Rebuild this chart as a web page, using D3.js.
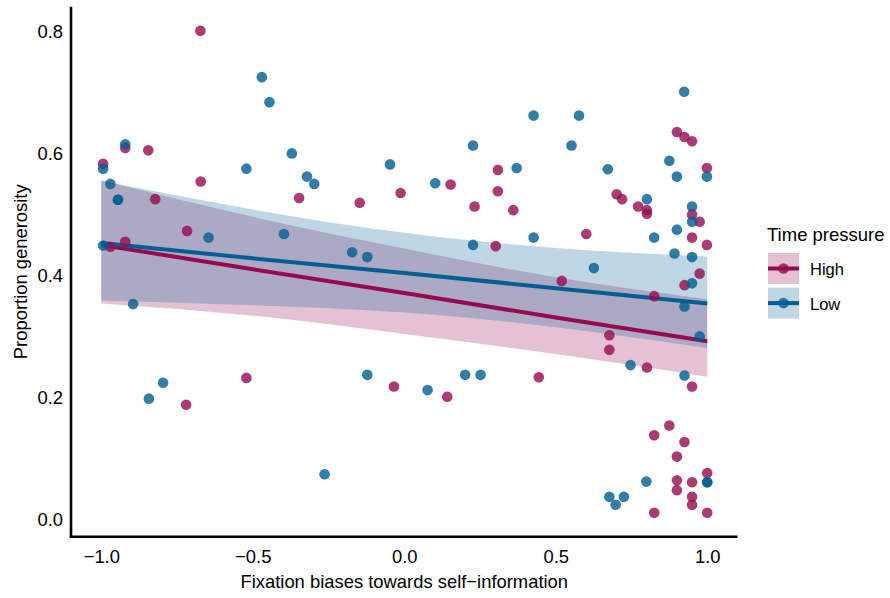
<!DOCTYPE html>
<html>
<head>
<meta charset="utf-8">
<script src="https://cdn.jsdelivr.net/npm/d3@7"></script>
<style>
  body { margin: 0; background: #fff; }
  text { font-family: "Liberation Sans", Arial, Helvetica, sans-serif; fill: #000; }
</style>
</head>
<body>
<div id="chart"></div>
<script>
// points: [fixation bias, proportion generosity]
var highPoints = [
  [-0.673, 0.802], [-0.921, 0.610], [-0.845, 0.606], [-0.994, 0.584], [-0.672, 0.555],
  [-0.822, 0.526], [-0.347, 0.528], [-0.717, 0.474], [-0.970, 0.448], [-0.921, 0.456],
  [-0.720, 0.189], [-0.521, 0.233], [0.309, 0.574], [0.153, 0.550], [0.309, 0.539],
  [-0.147, 0.520], [-0.012, 0.536], [0.232, 0.514], [0.360, 0.508], [0.302, 0.449],
  [0.601, 0.469], [0.520, 0.392], [-0.034, 0.219], [0.142, 0.202], [0.444, 0.234],
  [0.900, 0.636], [0.925, 0.628], [0.950, 0.621], [0.999, 0.577], [0.701, 0.534],
  [0.719, 0.526], [0.772, 0.514], [0.801, 0.508], [0.801, 0.502], [0.950, 0.501],
  [0.975, 0.489], [0.950, 0.463], [0.999, 0.451], [0.975, 0.404], [0.925, 0.385],
  [0.825, 0.367], [0.677, 0.303], [0.677, 0.279], [0.801, 0.250], [0.950, 0.219],
  [0.875, 0.155], [0.825, 0.139], [0.925, 0.128], [0.900, 0.104], [1.000, 0.077],
  [0.900, 0.065], [0.950, 0.062], [0.900, 0.049], [0.950, 0.038], [0.950, 0.025],
  [0.825, 0.012], [1.000, 0.012]
];
var lowPoints = [
  [-0.470, 0.726], [-0.445, 0.685], [-0.921, 0.616], [-0.994, 0.576], [-0.521, 0.576],
  [-0.371, 0.601], [-0.970, 0.551], [-0.945, 0.525], [-0.945, 0.525], [-0.646, 0.463],
  [-0.397, 0.469], [-0.994, 0.450], [-0.895, 0.354], [-0.796, 0.225], [-0.843, 0.199],
  [0.427, 0.663], [0.577, 0.663], [0.227, 0.614], [0.552, 0.614], [-0.047, 0.583],
  [0.371, 0.577], [-0.321, 0.563], [-0.297, 0.551], [0.102, 0.552], [0.427, 0.463],
  [0.227, 0.451], [-0.172, 0.439], [-0.122, 0.431], [0.626, 0.413], [-0.122, 0.238],
  [0.077, 0.213], [0.201, 0.238], [0.252, 0.238], [-0.263, 0.075], [0.924, 0.702],
  [0.875, 0.589], [0.672, 0.575], [0.900, 0.563], [0.999, 0.563], [0.801, 0.526],
  [0.950, 0.514], [0.950, 0.489], [0.900, 0.476], [0.825, 0.463], [0.892, 0.437],
  [0.950, 0.431], [0.950, 0.388], [0.925, 0.350], [0.975, 0.301], [0.747, 0.254],
  [0.925, 0.237], [1.000, 0.062], [1.000, 0.062], [0.799, 0.063], [0.677, 0.038],
  [0.725, 0.038], [0.698, 0.025]
];

// fitted lines and confidence bands, read at these x positions
var fitX = [-1, -0.5, 0, 0.5, 1];
var highFit = [0.451, 0.411, 0.372, 0.332, 0.293];
var highLower = [0.355, 0.335, 0.305, 0.272, 0.235];
var highUpper = [0.557, 0.497, 0.445, 0.398, 0.362];
var lowFit = [0.454, 0.429, 0.405, 0.380, 0.355];
var lowLower = [0.360, 0.352, 0.340, 0.316, 0.282];
var lowUpper = [0.556, 0.509, 0.471, 0.446, 0.432];

var xTicks = [-1.0, -0.5, 0.0, 0.5, 1.0];
var yTicks = [0.0, 0.2, 0.4, 0.6, 0.8];
var groups = ["High", "Low"];

var colors = { High: "#970A50", Low: "#005E94" };

var svgWidth = 890;
var svgHeight = 598;
var panel = { left: 71, right: 737.5, top: 6.7, bottom: 536.8 };

var svg = d3.select("#chart")
  .append("svg")
  .attr("width", svgWidth)
  .attr("height", svgHeight);

var xScale = d3.scaleLinear()
  .domain([-1.1, 1.1])
  .range([panel.left, panel.right]);

var yScale = d3.scaleLinear()
  .domain([-0.0275, 0.8415])
  .range([panel.bottom, panel.top]);

function band(lo, hi) {
  return fitX.map(function(x, i) { return { x: x, lo: lo[i], hi: hi[i] }; });
}
function fitLine(vals) {
  return fitX.map(function(x, i) { return { x: x, y: vals[i] }; });
}

var area = d3.area()
  .curve(d3.curveNatural)
  .x(d => xScale(d.x))
  .y0(d => yScale(d.lo))
  .y1(d => yScale(d.hi));

var line = d3.line()
  .x(d => xScale(d.x))
  .y(d => yScale(d.y));

var bands = { High: band(highLower, highUpper), Low: band(lowLower, lowUpper) };
var fits = { High: fitLine(highFit), Low: fitLine(lowFit) };
var points = { High: highPoints, Low: lowPoints };

// ribbons
groups.forEach(function(g) {
  svg.append("path")
    .datum(bands[g])
    .attr("d", area)
    .attr("fill", colors[g])
    .attr("fill-opacity", 0.25);
});

// regression lines
groups.forEach(function(g) {
  svg.append("path")
    .datum(fits[g])
    .attr("d", line)
    .attr("fill", "none")
    .attr("stroke", colors[g])
    .attr("stroke-width", 4);
});

// points
groups.forEach(function(g) {
  svg.append("g").selectAll("circle")
    .data(points[g])
    .enter()
    .append("circle")
    .attr("cx", d => xScale(d[0]))
    .attr("cy", d => yScale(d[1]))
    .attr("r", 5.3)
    .attr("fill", colors[g])
    .attr("fill-opacity", 0.8);
});

// axes, no ticks
var bottomAxis = d3.axisBottom(xScale)
  .tickValues(xTicks)
  .tickSize(0)
  .tickPadding(13)
  .tickFormat(d => d3.format(".1f")(d).replace("-", "\u2212"));
var leftAxis = d3.axisLeft(yScale)
  .tickValues(yTicks)
  .tickSize(0)
  .tickPadding(8)
  .tickFormat(d3.format(".1f"));

var gx = svg.append("g")
  .attr("transform", `translate(0, ${panel.bottom})`)
  .call(bottomAxis);
var gy = svg.append("g")
  .attr("transform", `translate(${panel.left}, 0)`)
  .call(leftAxis);

[gx, gy].forEach(function(g) {
  g.select(".domain").attr("stroke", "#000").attr("stroke-width", 2.6);
  g.selectAll("text").attr("font-size", 18.4).attr("fill", "#000");
});
gx.select(".domain").attr("d", `M${panel.left - 1.3},0H${panel.right}`);
gy.select(".domain").attr("d", `M0,${panel.top}V${panel.bottom}`);

// axis titles
svg.append("text")
  .attr("x", (panel.left + panel.right) / 2)
  .attr("y", 588)
  .attr("text-anchor", "middle")
  .attr("font-size", 18.4)
  .text("Fixation biases towards self\u2212information");

svg.append("text")
  .attr("transform", `translate(27, ${(panel.top + panel.bottom) / 2}) rotate(-90)`)
  .attr("text-anchor", "middle")
  .attr("font-size", 18.4)
  .text("Proportion generosity");

// legend
var legend = svg.append("g").attr("transform", "translate(767, 0)");
legend.append("text")
  .attr("x", 0)
  .attr("y", 241)
  .attr("font-size", 18.5)
  .text("Time pressure");

groups.forEach(function(g, i) {
  var top = 253 + i * 34.6;
  var key = legend.append("g").attr("transform", `translate(1, ${top})`);
  key.append("rect")
    .attr("width", 31)
    .attr("height", 31)
    .attr("fill", colors[g])
    .attr("fill-opacity", 0.25);
  key.append("line")
    .attr("x1", 0).attr("x2", 31)
    .attr("y1", 15.5).attr("y2", 15.5)
    .attr("stroke", colors[g])
    .attr("stroke-width", 4);
  key.append("circle")
    .attr("cx", 15.5).attr("cy", 15.5)
    .attr("r", 5.3)
    .attr("fill", colors[g])
    .attr("fill-opacity", 0.8);
  key.append("text")
    .attr("x", 42)
    .attr("y", 22)
    .attr("font-size", 16.5)
    .text(g);
});
</script>
</body>
</html>
